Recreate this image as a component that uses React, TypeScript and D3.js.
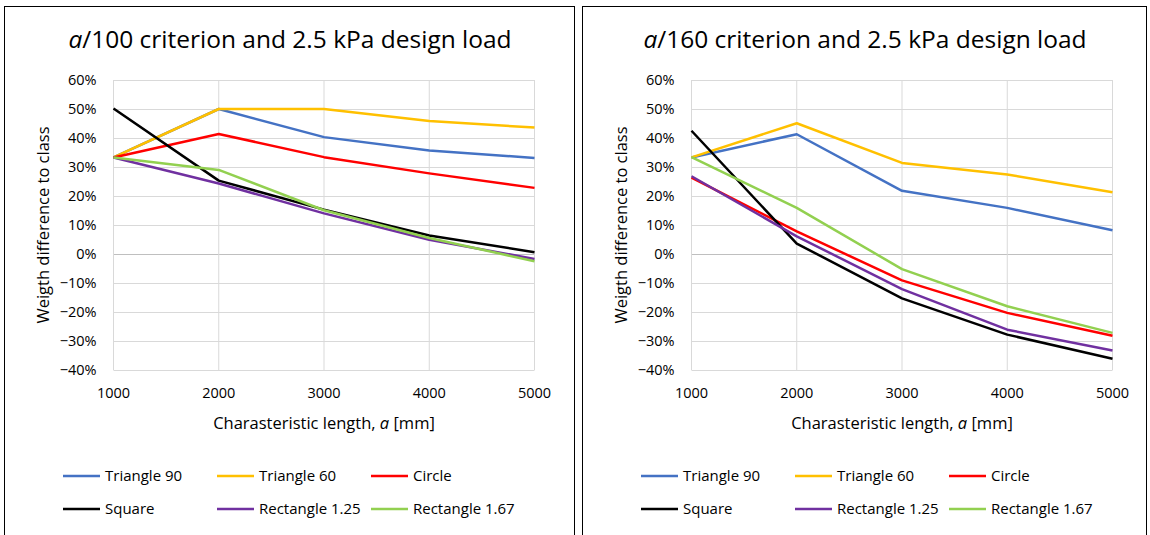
import { useEffect, useRef } from 'react'
import * as d3 from 'd3'

const lengths = [1000, 2000, 3000, 4000, 5000]
const yTicks = [-0.4, -0.3, -0.2, -0.1, 0, 0.1, 0.2, 0.3, 0.4, 0.5, 0.6]
const seriesNames = ['Triangle 90', 'Triangle 60', 'Circle', 'Square', 'Rectangle 1.25', 'Rectangle 1.67']
const seriesColors = ['#4472C4', '#FFC000', '#FF0000', '#000000', '#7030A0', '#92D050']

// a/100 criterion
const left_triangle90 = [0.333, 0.5, 0.403, 0.357, 0.331]
const left_triangle60 = [0.333, 0.5, 0.5, 0.459, 0.436]
const left_circle = [0.333, 0.414, 0.334, 0.278, 0.228]
const left_square = [0.502, 0.253, 0.153, 0.064, 0.006]
const left_rect125 = [0.333, 0.243, 0.140, 0.049, -0.017]
const left_rect167 = [0.333, 0.290, 0.151, 0.055, -0.025]

// a/160 criterion
const right_triangle90 = [0.333, 0.413, 0.218, 0.159, 0.082]
const right_triangle60 = [0.333, 0.451, 0.314, 0.274, 0.213]
const right_circle = [0.263, 0.078, -0.091, -0.203, -0.282]
const right_square = [0.425, 0.036, -0.153, -0.278, -0.361]
const right_rect125 = [0.268, 0.061, -0.121, -0.261, -0.333]
const right_rect167 = [0.334, 0.159, -0.052, -0.180, -0.272]

const leftSeries = [left_triangle90, left_triangle60, left_circle, left_square, left_rect125, left_rect167]
const rightSeries = [right_triangle90, right_triangle60, right_circle, right_square, right_rect125, right_rect167]

const FONT = "'Open Sans', 'Noto Sans', sans-serif"

interface PanelProps {
  x: number
  width: number
  divisor: string
  series: number[][]
}

function Panel({ x, width, divisor, series }: PanelProps) {
  const gRef = useRef<SVGGElement>(null)

  useEffect(() => {
    if (!gRef.current) return
    const g = d3.select(gRef.current)
    g.selectAll('*').remove()

    const plot = { left: 109.5, right: 530.5, top: 80, bottom: 370 }

    // frame
    g.append('rect')
      .attr('x', 0.5).attr('y', 6.5)
      .attr('width', width).attr('height', 560)
      .attr('fill', 'white').attr('stroke', '#000').attr('stroke-width', 1)

    // title
    const title = g.append('text')
      .attr('x', width / 2 + 1).attr('y', 48)
      .attr('text-anchor', 'middle')
      .style('font-family', FONT).style('font-size', '24.5px').attr('fill', '#000')
    title.append('tspan').style('font-style', 'italic').text('a')
    title.append('tspan').text(`/${divisor} criterion and 2.5 kPa design load`)

    const xScale = d3.scaleLinear().domain([1000, 5000]).range([plot.left, plot.right])
    const yScale = d3.scaleLinear().domain([-0.4, 0.6]).range([plot.bottom, plot.top])

    // gridlines
    g.append('g').selectAll('line.h')
      .data(yTicks).enter().append('line')
      .attr('x1', plot.left).attr('x2', plot.right)
      .attr('y1', d => Math.round(yScale(d)) + 0.5).attr('y2', d => Math.round(yScale(d)) + 0.5)
      .attr('stroke', d => d === 0 ? '#bfbfbf' : '#d9d9d9').attr('stroke-width', 1)
    g.append('g').selectAll('line.v')
      .data(lengths).enter().append('line')
      .attr('x1', d => xScale(d)).attr('x2', d => xScale(d))
      .attr('y1', plot.top).attr('y2', plot.bottom)
      .attr('stroke', '#d9d9d9').attr('stroke-width', 1)

    // y tick labels
    g.append('g').selectAll('text')
      .data(yTicks).enter().append('text')
      .attr('x', plot.left - 17).attr('y', d => yScale(d) + 5)
      .attr('text-anchor', 'end')
      .style('font-family', FONT).style('font-size', '14.5px').attr('fill', '#000')
      .text(d => d3.format('.0%')(d))

    // x tick labels
    g.append('g').selectAll('text')
      .data(lengths).enter().append('text')
      .attr('x', d => xScale(d)).attr('y', plot.bottom + 28)
      .attr('text-anchor', 'middle')
      .style('font-family', FONT).style('font-size', '14.5px').attr('fill', '#000')
      .text(d => String(d))

    // axis titles
    const xt = g.append('text')
      .attr('x', (plot.left + plot.right) / 2).attr('y', 429)
      .attr('text-anchor', 'middle')
      .style('font-family', FONT).style('font-size', '16.5px').attr('fill', '#000')
    xt.append('tspan').text('Charasteristic length, ')
    xt.append('tspan').style('font-style', 'italic').text('a')
    xt.append('tspan').text(' [mm]')

    g.append('text')
      .attr('transform', `translate(45,${(plot.top + plot.bottom) / 2}) rotate(-90)`)
      .attr('text-anchor', 'middle')
      .style('font-family', FONT).style('font-size', '16.5px').attr('fill', '#000')
      .text('Weigth difference to class')

    // lines
    const line = d3.line<number>()
      .x((_, i) => xScale(lengths[i]))
      .y(d => yScale(d))

    series.forEach((s, i) => {
      g.append('path')
        .datum(s)
        .attr('d', line)
        .attr('fill', 'none')
        .attr('stroke', seriesColors[i])
        .attr('stroke-width', 2.5)
        .attr('stroke-linejoin', 'round')
    })

    // legend
    const colX = [59, 213, 367]
    const rowY = [476, 509]
    seriesNames.forEach((name, i) => {
      const cx = colX[i % 3]
      const cy = rowY[Math.floor(i / 3)]
      g.append('line')
        .attr('x1', cx).attr('x2', cx + 37)
        .attr('y1', cy).attr('y2', cy)
        .attr('stroke', seriesColors[i]).attr('stroke-width', 2.5)
      g.append('text')
        .attr('x', cx + 42).attr('y', cy + 5)
        .style('font-family', FONT).style('font-size', '15px').attr('fill', '#000')
        .text(name)
    })
  }, [width, divisor, series])

  return <g ref={gRef} transform={`translate(${x},0)`} />
}

export default function App() {
  return (
    <svg
      width={1150}
      height={535}
      style={{ position: 'absolute', left: 0, top: 0, background: '#fff' }}
    >
      <Panel x={4} width={570} divisor="100" series={leftSeries} />
      <Panel x={582} width={564} divisor="160" series={rightSeries} />
    </svg>
  )
}
